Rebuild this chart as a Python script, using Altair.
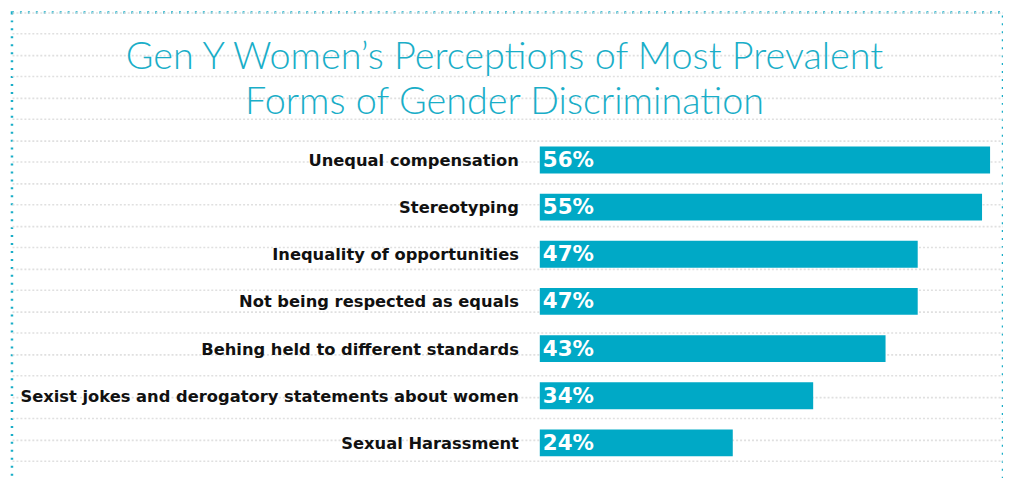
import altair as alt
import pandas as pd

categories = [
    "Unequal compensation",
    "Stereotyping",
    "Inequality of opportunities",
    "Not being respected as equals",
    "Behing held to different standards",
    "Sexist jokes and derogatory statements about women",
    "Sexual Harassment",
]
values = [56, 55, 47, 47, 43, 34, 24]
value_labels = ["56%", "55%", "47%", "47%", "43%", "34%", "24%"]
title_lines = ["Gen Y Women\u2019s Perceptions of Most Prevalent", "Forms of Gender Discrimination"]
texture_rows = list(range(0, 23))

df = pd.DataFrame({"category": categories, "value": values, "label": value_labels})

BAR = "#00a9c6"
TEAL = "#1aaec8"

y_enc = alt.Y(
    "category:N",
    sort=categories,
    axis=None,
    scale=alt.Scale(range=[124.8, 456.7], paddingInner=0.43, paddingOuter=0.215),
)
x_scale = alt.Scale(domain=[0, 56], range=[531, 984])

base = alt.Chart(df)

# faint dotted background texture (grid only)
texture = base.mark_point(opacity=0).encode(
    y=alt.Y(
        "value:Q",
        scale=alt.Scale(domain=[0, 22.33], range=[0, 480], zero=False, nice=False),
        axis=alt.Axis(
            values=texture_rows, grid=True, gridColor="#e0e0e0", gridDash=[2, 2],
            gridWidth=1.6, labels=False, ticks=False, domain=False, title=None,
        ),
    ),
)

bars = base.mark_bar(color=BAR).encode(
    x=alt.X("value:Q", scale=x_scale, axis=None),
    y=y_enc,
)

cat_text = base.mark_text(
    align="right", baseline="middle", dx=-21, dy=1,
    font="DejaVu Sans", fontWeight="bold", fontSize=16.4, color="#111111",
).encode(
    x=alt.datum(0, scale=x_scale),
    y=y_enc,
    text="category:N",
)

val_text = base.mark_text(
    align="left", baseline="middle", dx=3, dy=1,
    font="DejaVu Sans", fontWeight="bold", fontSize=21.5, color="white",
).encode(
    x=alt.datum(0, scale=x_scale),
    y=y_enc,
    text="label:N",
)

chart = (
    alt.layer(texture, alt.layer(bars, cat_text, val_text))
    .resolve_scale(y="independent", x="independent")
    .properties(
        width=997,
        height=480,
        autosize=alt.AutoSizeParams(type="none"),
        padding={"left": 4, "top": 3, "right": 0, "bottom": 0},
        title=alt.TitleParams(
            text=title_lines,
            offset=-110,
            anchor="middle",
            font="Lato",
            fontWeight=300,
            fontSize=38,
            color=TEAL,
            lineHeight=45,
            dx=-3,
        ),
    )
    .configure(background="white")
    .configure_view(stroke=TEAL, strokeDash=[2, 6], strokeWidth=2.5)
)

chart.save("out.html", embed_options={"renderer": "svg", "actions": False})
